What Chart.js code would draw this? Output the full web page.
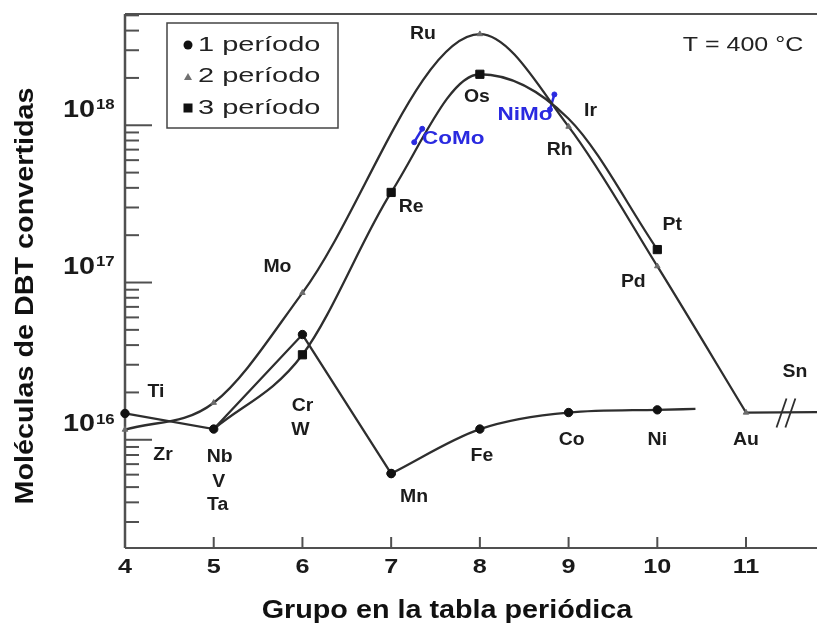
<!DOCTYPE html>
<html>
<head>
<meta charset="utf-8">
<script src="https://cdn.jsdelivr.net/npm/chart.js@4.4.1/dist/chart.umd.min.js"></script>
<style>
  body { margin: 0; background: #fff; }
  canvas { display: block; }
</style>
</head>
<body>
<canvas id="groupChart" width="817" height="629"></canvas>
<script>
// Grupos en la tabla periódica (eje x)
const groupTicks = [4, 5, 6, 7, 8, 9, 10, 11];
const decadeTicks = [1e16, 1e17, 1e18];

// 1 período: Ti, V, Cr, Mn, Fe, Co, Ni (+ final de la curva)
const p1Groups = [4, 5, 6, 7, 8, 9, 10, 10.43];
const p1Values = [1.47e16, 1.17e16, 4.67e16, 6.1e15, 1.17e16, 1.49e16, 1.55e16, 1.57e16];

// 2 período: Zr, Nb, Mo, Ru, Rh, Pd, Au
const p2Groups = [4, 5, 6, 8, 9, 10, 11];
const p2Values = [1.16e16, 1.72e16, 8.6e16, 3.8e18, 9.8e17, 1.27e17, 1.49e16];

// 3 período: Ta, W, Re, Os, Ir, Pt
const p3Groups = [5, 6, 7, 8, 9, 10];
const p3Values = [1.17e16, 3.47e16, 3.74e17, 2.11e18, 1.1e18, 1.62e17];

// Sn, después del corte del eje
const snGroups = [11, 11.8];
const snValues = [1.49e16, 1.5e16];

// catalizadores CoMo y NiMo
const comoGroups = [7.35, 7.26];
const comoValues = [9.5e17, 7.8e17];
const nimoGroups = [8.84, 8.79];
const nimoValues = [1.57e18, 1.26e18];

const legendItems = ['1 período', '2 período', '3 período'];

// etiqueta, dataset, punto, dx, dy
const elementLabels = [
  ['Ti', 0, 0, 31, -21], ['Zr', 2, 0, 38, 25],
  ['Nb', 0, 1, 6, 28], ['V', 0, 1, 5, 53], ['Ta', 0, 1, 4, 76],
  ['Mo', 2, 2, -25, -26], ['Cr', 0, 2, 0, 72], ['W', 3, 1, -2, 75],
  ['Re', 3, 2, 20, 15], ['Mn', 0, 3, 23, 24],
  ['Ru', 2, 3, -57, 0], ['Os', 3, 3, -3, 23], ['Fe', 1, 1, 2, 27],
  ['Rh', 2, 4, -9, 23], ['Ir', 3, 4, 22, -8], ['Co', 1, 2, 3, 27],
  ['Pt', 3, 5, 15, -25], ['Pd', 2, 5, -24, 16], ['Ni', 1, 3, 0, 30],
  ['Au', 2, 6, 0, 27], ['Sn', 4, 1, -22, -40]
];
const blueLabels = [['CoMo', 5, 1, 39, -3], ['NiMo', 6, 1, -25, 6]];

const FONT = "'Liberation Sans', Arial, sans-serif";
const LINE = '#2e2e2e';
const BLUE = '#2a2ae0';

const toPoints = (xs, ys) => xs.map((x, i) => ({ x: x, y: ys[i] }));

function drawText(ctx, str, x, y, font, sx, align, color) {
  ctx.save();
  ctx.font = font;
  ctx.fillStyle = color || '#1c1c1c';
  ctx.textAlign = align || 'center';
  ctx.textBaseline = 'middle';
  ctx.translate(x, y);
  ctx.scale(sx, 1);
  ctx.fillText(str, 0, 0);
  ctx.restore();
}

function line(ctx, x1, y1, x2, y2) {
  ctx.beginPath();
  ctx.moveTo(x1, y1);
  ctx.lineTo(x2, y2);
  ctx.stroke();
}

// ejes, marcas y corte del eje
const axesPlugin = {
  id: 'axesPlugin',
  beforeDatasetsDraw(chart) {
    const { ctx, chartArea: a, scales: { x, y } } = chart;
    ctx.save();
    ctx.strokeStyle = '#505050';
    ctx.lineWidth = 2;
    line(ctx, a.left, a.top, a.right, a.top);
    line(ctx, a.left, a.bottom, a.right, a.bottom);
    ctx.lineWidth = 2.5;
    line(ctx, a.left, a.top, a.left, a.bottom);

    ctx.lineWidth = 2;
    for (let e = 15; e <= 18; e++) {
      for (let m = 1; m <= 9; m++) {
        const v = m * Math.pow(10, e);
        if (v < y.min || v > y.max) continue;
        const py = y.getPixelForValue(v);
        line(ctx, a.left, py, a.left + (m === 1 ? 27 : 14), py);
      }
    }
    groupTicks.forEach(g => {
      const px = x.getPixelForValue(g);
      line(ctx, px, a.bottom, px, a.bottom - 11);
    });

    // corte antes de Sn
    ctx.strokeStyle = LINE;
    ctx.lineWidth = 1.8;
    const by = y.getPixelForValue(snValues[0]);
    [11.4, 11.5].forEach(g => {
      const px = x.getPixelForValue(g);
      line(ctx, px + 5, by - 14, px - 5, by + 15);
    });
    ctx.restore();
  },
  afterDraw(chart) {
    const { ctx, chartArea: a, scales: { x, y } } = chart;

    // números del eje x
    groupTicks.forEach(g => {
      drawText(ctx, String(g), x.getPixelForValue(g), a.bottom + 19, 'bold 21px ' + FONT, 1.2, 'center', '#1a1a1a');
    });

    // potencias de diez del eje y
    decadeTicks.forEach(v => {
      const py = y.getPixelForValue(v) - 15;
      const exp = String(Math.round(Math.log10(v)));
      drawText(ctx, '10', 95, py, 'bold 23px ' + FONT, 1.25, 'right', '#1a1a1a');
      drawText(ctx, exp, 96, py - 5, 'bold 14px ' + FONT, 1.2, 'left', '#1a1a1a');
    });

    // títulos de los ejes
    drawText(ctx, 'Grupo en la tabla periódica', 447, 611, 'bold 25px ' + FONT, 1.15, 'center', '#111');
    ctx.save();
    ctx.translate(26, 296);
    ctx.rotate(-Math.PI / 2);
    drawText(ctx, 'Moléculas de DBT convertidas', 0, 0, 'bold 25px ' + FONT, 1.15, 'center', '#111');
    ctx.restore();

    // nombres de los elementos
    const at = (di, pi) => chart.getDatasetMeta(di).data[pi];
    elementLabels.forEach(([t, di, pi, dx, dy]) => {
      const p = at(di, pi);
      drawText(ctx, t, p.x + dx, p.y + dy, 'bold 18px ' + FONT, 1.08, 'center', '#1c1c1c');
    });
    blueLabels.forEach(([t, di, pi, dx, dy]) => {
      const p = at(di, pi);
      drawText(ctx, t, p.x + dx, p.y + dy, 'bold 18px ' + FONT, 1.25, 'center', BLUE);
    });

    drawText(ctx, 'T = 400 °C', 743, 45, '20px ' + FONT, 1.25, 'center', '#222');

    // leyenda
    ctx.save();
    ctx.strokeStyle = '#444';
    ctx.lineWidth = 1.5;
    ctx.strokeRect(167, 23, 171, 105);
    ctx.fillStyle = '#111';
    ctx.beginPath();
    ctx.arc(188, 45, 4.5, 0, Math.PI * 2);
    ctx.fill();
    ctx.fillStyle = '#707070';
    ctx.beginPath();
    ctx.moveTo(188, 73);
    ctx.lineTo(192, 80);
    ctx.lineTo(184, 80);
    ctx.closePath();
    ctx.fill();
    ctx.fillStyle = '#111';
    ctx.fillRect(183.5, 103.5, 9, 9);
    ctx.restore();
    legendItems.forEach((t, i) => {
      drawText(ctx, t, 198, 45 + i * 31.5, '21px ' + FONT, 1.38, 'left', '#222');
    });
  }
};

const base = {
  showLine: true,
  borderColor: LINE,
  borderWidth: 2.3,
  cubicInterpolationMode: 'monotone',
  clip: false,
  pointBorderWidth: 1
};

const p1Points = toPoints(p1Groups, p1Values);
const circles = {
  pointStyle: 'circle',
  pointBackgroundColor: '#111',
  pointBorderColor: '#111'
};

new Chart(document.getElementById('groupChart'), {
  type: 'scatter',
  data: {
    datasets: [
      // 1 período: tramo quebrado Ti–V–Cr–Mn
      Object.assign({}, base, circles, {
        label: '1 período',
        data: p1Points.slice(0, 4),
        cubicInterpolationMode: 'default',
        tension: 0,
        pointRadius: 4.2
      }),
      // 1 período: tramo suave Mn–Fe–Co–Ni
      Object.assign({}, base, circles, {
        label: '1 período (Mn–Ni)',
        data: p1Points.slice(3),
        pointRadius: c => (c.dataIndex === p1Groups.length - 4 ? 0 : 4.2)
      }),
      Object.assign({}, base, {
        label: '2 período',
        data: toPoints(p2Groups, p2Values),
        pointStyle: 'triangle',
        pointRadius: 3.2,
        pointBackgroundColor: '#6b6b6b',
        pointBorderColor: '#6b6b6b'
      }),
      Object.assign({}, base, {
        label: '3 período',
        data: toPoints(p3Groups, p3Values),
        pointStyle: 'rect',
        // Ta e Ir quedan tapados por V y Rh
        pointRadius: c => (c.dataIndex === 0 || c.dataIndex === 4 ? 0 : 5.8),
        pointBackgroundColor: '#111',
        pointBorderColor: '#111'
      }),
      Object.assign({}, base, {
        label: 'Sn',
        data: toPoints(snGroups, snValues),
        cubicInterpolationMode: 'default',
        pointRadius: 0
      }),
      Object.assign({}, base, {
        label: 'CoMo',
        data: toPoints(comoGroups, comoValues),
        borderColor: BLUE,
        borderWidth: 2.5,
        pointRadius: 2.5,
        pointBackgroundColor: BLUE,
        pointBorderColor: BLUE
      }),
      Object.assign({}, base, {
        label: 'NiMo',
        data: toPoints(nimoGroups, nimoValues),
        borderColor: BLUE,
        borderWidth: 2.5,
        pointRadius: 2.5,
        pointBackgroundColor: BLUE,
        pointBorderColor: BLUE
      })
    ]
  },
  options: {
    responsive: false,
    animation: false,
    devicePixelRatio: 1,
    layout: { autoPadding: false, padding: { top: 14, right: 0, bottom: 0, left: 0 } },
    plugins: {
      legend: { display: false },
      tooltip: { enabled: false }
    },
    scales: {
      x: {
        type: 'linear',
        min: 4,
        max: 11.8,
        ticks: { display: false },
        grid: { display: false },
        border: { display: false },
        afterFit: s => { s.height = 81; }
      },
      y: {
        type: 'logarithmic',
        min: 2.05e15,
        max: 5.1e18,
        ticks: { display: false },
        grid: { display: false },
        border: { display: false },
        afterFit: s => { s.width = 125; }
      }
    }
  },
  plugins: [axesPlugin]
});
</script>
</body>
</html>
